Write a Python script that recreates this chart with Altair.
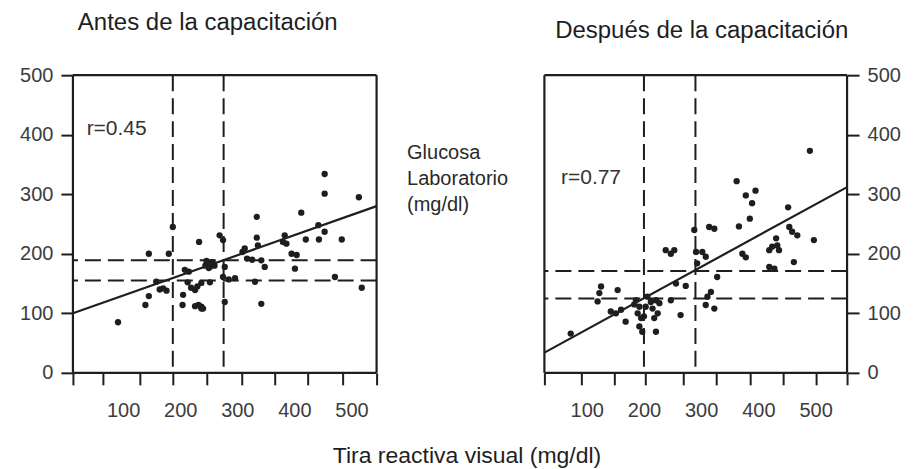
import altair as alt
import pandas as pd

INK = "#1e1e1e"
LABEL = "#3c3c3c"
FONT = "Liberation Sans"

# ---------------- data ----------------
# Antes de la capacitación
antes_x = [91, 139, 145, 145, 158, 164, 176, 170, 180, 187, 205, 204, 208, 213, 219, 226, 226, 232,
           237, 240, 237, 233, 237, 252, 244, 248, 252, 256, 260, 250, 246, 258, 269, 275, 278, 275,
           278, 285, 296, 309, 313, 317, 326, 334, 334, 336, 342, 348, 331, 342, 383, 386, 380, 395,
           404, 401, 412, 420, 443, 442, 453, 453, 453, 483, 471, 513, 518, 230, 215]
antes_y = [85, 114, 129, 200, 153, 140, 138, 142, 200, 245, 131, 114, 173, 152, 143, 139, 112, 114,
           111, 108, 108, 220, 151, 152, 180, 184, 178, 186, 180, 176, 188, 183, 231, 223, 178, 161,
           119, 157, 159, 203, 209, 192, 190, 262, 227, 214, 189, 178, 153, 116, 231, 217, 220, 200,
           198, 175, 269, 224, 224, 248, 237, 334, 301, 224, 161, 295, 143, 145, 170]

# Después de la capacitación
despues_x = [72, 125, 122, 119, 154, 142, 151, 160, 168, 186, 192, 189, 195, 192, 197, 203, 206, 212,
             221, 215, 224, 218, 221, 227, 247, 256, 273, 264, 238, 247, 253, 288, 291, 302, 308, 293,
             314, 323, 328, 317, 311, 308, 323, 362, 366, 372, 378, 378, 395, 389, 385, 419, 424, 431,
             433, 436, 419, 428, 452, 454, 459, 468, 462, 497, 490, 183, 200]
despues_y = [66, 145, 134, 120, 139, 103, 100, 106, 86, 122, 111, 100, 92, 78, 69, 111, 128, 119,
             122, 108, 100, 92, 69, 117, 122, 150, 146, 97, 206, 200, 206, 240, 203, 203, 195, 184,
             245, 242, 161, 136, 128, 114, 108, 322, 246, 200, 194, 298, 306, 285, 259, 206, 212, 226,
             214, 206, 178, 175, 278, 245, 237, 231, 186, 223, 373, 115, 95]

# regression lines (end points)
antes_fit_x = [12, 544]
antes_fit_y = [100, 280]
despues_fit_x = [26, 555]
despues_fit_y = [34, 312]

# dashed reference lines
antes_vlines = [187, 276]
antes_hlines = [155, 189]
despues_vlines = [200, 290]
despues_hlines = [125, 171]

# correlation labels
antes_r = ["r=0.45"]
antes_r_x = [36]
antes_r_y = [399]
despues_r = ["r=0.77"]
despues_r_x = [55]
despues_r_y = [317]

# axes
antes_domain = [12, 544]
despues_domain = [26, 555]
y_domain = [0, 500]
antes_ticks = [12, 64, 129, 187, 247, 308, 366, 424, 485, 544]
despues_ticks = [26, 90, 148, 203, 268, 326, 385, 443, 501, 555]
x_labels = [100, 200, 300, 400, 500]
y_ticks = [0, 100, 200, 300, 400, 500]

titles = ["Antes de la capacitación", "Después de la capacitación"]
x_title = "Tira reactiva visual (mg/dl)"
y_title = ["Glucosa", "Laboratorio", "(mg/dl)"]

H = 298


def panel(xs, ys, fx, fy, vl, hl, rt, rx, ry, dom, ticks, yorient, title, tdx, toff, width, left):
    xs_ = alt.Scale(domain=dom, nice=False, zero=False)
    ys_ = alt.Scale(domain=y_domain, nice=False, zero=False)

    tick_axis = alt.Axis(values=ticks, labels=False, ticks=True, tickSize=12, tickWidth=2,
                         tickColor=INK, domain=False, grid=False, title=None, orient="bottom")
    lab_kw = dict(values=x_labels, labels=True, ticks=False, tickSize=0, domain=False, grid=False,
                  labelPadding=28, labelFontSize=20, labelColor=LABEL, labelFont=FONT,
                  labelFlush=False, orient="bottom")
    if left:
        lab_kw.update(title=x_title, titleX=394, titleY=90, titleAlign="center",
                      titleBaseline="alphabetic", titleAngle=0, titleFontSize=23,
                      titleFontWeight="normal", titleColor=INK, titleFont=FONT)
    else:
        lab_kw.update(title=None)
    label_axis = alt.Axis(**lab_kw)

    y_kw = dict(values=y_ticks, orient=yorient, tickSize=12, tickWidth=2, tickColor=INK,
                labelPadding=8, labelFontSize=20, labelColor=LABEL, labelFont=FONT,
                domain=False, grid=False)
    if left:
        y_kw.update(title=y_title, titleAngle=0, titleAlign="left", titleBaseline="alphabetic",
                    titleX=334, titleY=83.5, titleFontSize=20, titleFontWeight="normal",
                    titleLineHeight=26, titleColor="#2a2a2a", titleFont=FONT)
    else:
        y_kw.update(title=None)
    y_axis = alt.Axis(**y_kw)

    # frame: four solid rules on the domain limits
    fr_v = alt.Chart(pd.DataFrame({"x": dom})).mark_rule(
        color=INK, strokeWidth=2.2).encode(x=alt.X("x:Q", scale=xs_, axis=None))
    fr_h = alt.Chart(pd.DataFrame({"y": y_domain})).mark_rule(
        color=INK, strokeWidth=2.2).encode(y=alt.Y("y:Q", scale=ys_, axis=None))

    pts = alt.Chart(pd.DataFrame({"x": xs, "y": ys})).mark_circle(
        size=40, color=INK, opacity=1).encode(
        x=alt.X("x:Q", scale=xs_, axis=tick_axis),
        y=alt.Y("y:Q", scale=ys_, axis=y_axis))
    fit = alt.Chart(pd.DataFrame({"x": fx, "y": fy})).mark_line(
        color=INK, strokeWidth=2.2).encode(
        x=alt.X("x:Q", scale=xs_, axis=label_axis),
        y=alt.Y("y:Q", scale=ys_, axis=None))
    vr = alt.Chart(pd.DataFrame({"x": vl})).mark_rule(
        color=INK, strokeWidth=2, strokeDash=[16, 7]).encode(
        x=alt.X("x:Q", scale=xs_, axis=None))
    hr = alt.Chart(pd.DataFrame({"y": hl})).mark_rule(
        color=INK, strokeWidth=2, strokeDash=[16, 7]).encode(
        y=alt.Y("y:Q", scale=ys_, axis=None))
    txt = alt.Chart(pd.DataFrame({"x": rx, "y": ry, "t": rt})).mark_text(
        align="left", baseline="alphabetic", fontSize=21, font=FONT, color="#333333").encode(
        x=alt.X("x:Q", scale=xs_, axis=None),
        y=alt.Y("y:Q", scale=ys_, axis=None),
        text="t:N")
    return alt.layer(pts, fit, vr, hr, txt, fr_v, fr_h).resolve_axis(
        x="independent", y="independent").properties(
        width=width, height=H,
        title=alt.TitleParams(title, frame="group", anchor="middle", dx=tdx, offset=toff,
                              baseline="alphabetic", fontSize=24, font=FONT,
                              fontWeight="normal", color=INK))


left = panel(antes_x, antes_y, antes_fit_x, antes_fit_y, antes_vlines, antes_hlines,
             antes_r, antes_r_x, antes_r_y, antes_domain, antes_ticks, "left",
             titles[0], -17, 11.5, 304, True)
right = panel(despues_x, despues_y, despues_fit_x, despues_fit_y, despues_vlines, despues_hlines,
              despues_r, despues_r_x, despues_r_y, despues_domain, despues_ticks, "right",
              titles[1], 6, 3.5, 303, False)

chart = alt.hconcat(left, right, spacing=168, bounds="flush").configure(
    font=FONT, padding={"left": 11, "top": 2, "right": 5, "bottom": 0},
    background="white").configure_view(stroke=None)

chart.save("out.html", embed_options={"renderer": "svg", "actions": False})
